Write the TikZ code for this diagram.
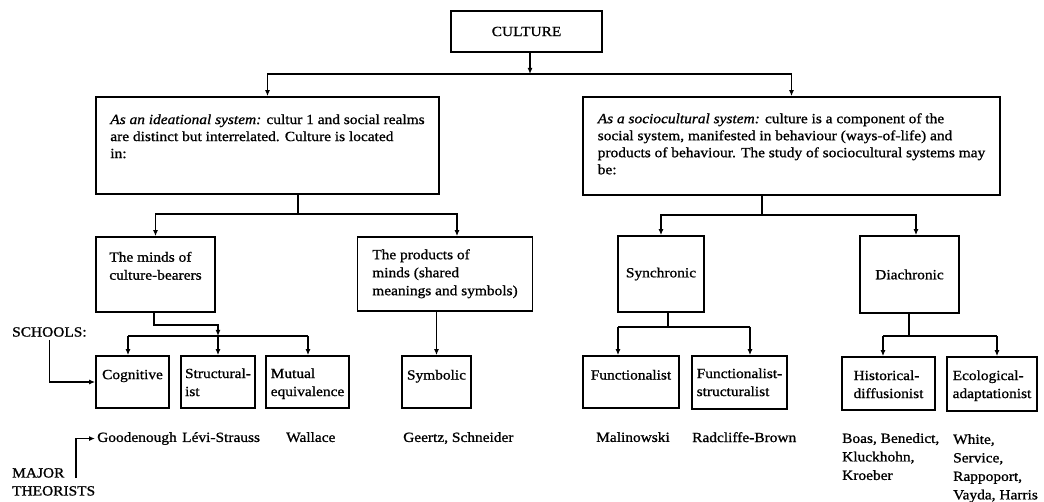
\documentclass[tikz,border=0pt]{standalone}
\usepackage{fontspec}
\setmainfont{Liberation Serif}[FakeStretch=1.1,FakeBold=1]
\usetikzlibrary{arrows.meta}
\begin{document}
\begin{tikzpicture}[x=1pt,y=-1pt,
  box/.style={draw, line width=1.7pt, inner sep=0pt, font=\fontsize{14}{18}\selectfont},
  txt/.style={align=left, inner sep=0pt, font=\fontsize{14}{18}\selectfont},
  bigtxt/.style={align=left, inner sep=0pt, font=\fontsize{14}{17}\selectfont},
  conn/.style={line width=1.3pt},
  arr/.style={conn, -{Latex[length=6pt,width=5pt]}},
]
\useasboundingbox (0,0) rectangle (1044,502);

% level 0
\node[box, minimum width=151pt, minimum height=41pt] (culture) at (526.5,31.5) {CULTURE};

% level 1
\node[box, minimum width=343pt, minimum height=97pt] (ideal) at (267.5,145.5) {};
\node[bigtxt, anchor=north] (idealt) at ([yshift=-18pt]ideal.north)
  {\textit{As an ideational system:} cultur 1 and social realms\\
   are distinct but interrelated. Culture is located\\
   in:};
\node[box, minimum width=417pt, minimum height=98pt] (socio) at (791.5,146) {};
\node[bigtxt, anchor=north] (sociot) at ([yshift=-17pt]socio.north)
  {\textit{As a sociocultural system:} culture is a component of the\\
   social system, manifested in behaviour (ways-of-life) and\\
   products of behaviour. The study of sociocultural systems may\\
   be:};

% level 2
\node[box, minimum width=119pt, minimum height=75pt] (minds) at (155.5,274.5) {};
\node[txt, anchor=north] (mindst) at ([yshift=-15.5pt]minds.north) {The minds of\\culture-bearers};
\node[box, minimum width=175pt, minimum height=74pt] (products) at (445,274) {};
\node[txt, anchor=north] (productst) at ([yshift=-13pt]products.north) {The products of\\minds (shared\\meanings and symbols)};
\node[box, minimum width=86pt, minimum height=76pt] (synchronic) at (661,274) {Synchronic};
\node[box, minimum width=99pt, minimum height=77pt] (diachronic) at (909.5,274.5) {Diachronic};

% level 3 (schools)
\node[box, minimum width=73pt, minimum height=52pt] (cognitive) at (132.5,382) {};
\node[txt, anchor=north] (cognitivet) at ([yshift=-14.5pt]cognitive.north) {Cognitive};
\node[box, minimum width=74pt, minimum height=52pt] (structural) at (218,382) {};
\node[txt, anchor=north] (structuralt) at ([yshift=-13pt]structural.north) {Structural-\\ist};
\node[box, minimum width=83pt, minimum height=52pt] (mutual) at (307.5,382) {};
\node[txt, anchor=north] (mutualt) at ([yshift=-13pt]mutual.north) {Mutual\\equivalence};
\node[box, minimum width=69pt, minimum height=52pt] (symbolic) at (436.5,382) {};
\node[txt, anchor=north] (symbolict) at ([yshift=-14.5pt]symbolic.north) {Symbolic};
\node[box, minimum width=96pt, minimum height=52pt] (functionalist) at (631,382) {};
\node[txt, anchor=north] (functionalistt) at ([yshift=-14.5pt]functionalist.north) {Functionalist};
\node[box, minimum width=95pt, minimum height=53pt] (funcstruct) at (739.5,382.5) {};
\node[txt, anchor=north] (funcstructt) at ([yshift=-13pt]funcstruct.north) {Functionalist-\\structuralist};
\node[box, minimum width=93pt, minimum height=53pt] (histdiff) at (888.5,383.5) {};
\node[txt, anchor=north] (histdifft) at ([yshift=-14pt]histdiff.north) {Historical-\\diffusionist};
\node[box, minimum width=90pt, minimum height=54pt] (ecoadapt) at (992,384) {};
\node[txt, anchor=north] (ecoadaptt) at ([yshift=-14pt]ecoadapt.north) {Ecological-\\adaptationist};

% theorists
\node[txt, anchor=north west] (goodenough) at (97,432) {Goodenough};
\node[txt, anchor=north west] (levi) at (182,432) {Lévi-Strauss};
\node[txt, anchor=north west] (wallace) at (286,432) {Wallace};
\node[txt, anchor=north west] (geertz) at (403,432) {Geertz, Schneider};
\node[txt, anchor=north west] (malinowski) at (596,432) {Malinowski};
\node[txt, anchor=north west] (radcliffe) at (692,432) {Radcliffe-Brown};
\node[txt, anchor=north west, font=\fontsize{14}{18.5}\selectfont] (boas) at (842,433) {Boas, Benedict,\\Kluckhohn,\\Kroeber};
\node[txt, anchor=north west, font=\fontsize{14}{18.5}\selectfont] (white) at (953,434) {White,\\Service,\\Rappoport,\\Vayda, Harris};

% side labels
\node[txt, anchor=west] (schools) at (12,332) {SCHOOLS:};
\node[txt, anchor=north west] (major) at (12,468) {MAJOR\\THEORISTS};

% connectors
\coordinate (c0) at (530,74);
\draw[arr] (culture.south -| c0) -- (c0);
\draw[arr] (c0) -| (ideal);
\draw[arr] (c0) -| (socio);

\coordinate (c1) at (298,214);
\coordinate (pa) at (457,214);
\draw[conn] (ideal.south -| c1) -- (c1);
\draw[arr] (c1) -| (minds);
\draw[arr] (c1) -- (pa) -- (pa |- products.north);

\coordinate (c2) at (762,215);
\coordinate (da) at (916,215);
\draw[conn] (socio.south -| c2) -- (c2);
\draw[arr] (c2) -| (synchronic);
\draw[arr] (c2) -- (da) -- (da |- diachronic.north);

\coordinate (m1) at (154,325);
\coordinate (m2) at (218,325);
\coordinate (m3) at (218,336);
\coordinate (b1) at (128,336);
\coordinate (b3) at (308,336);
\draw[arr] (minds.south -| m1) -- (m1) -- (m2) -- (m3);
\draw[conn] (b1) -- (b3);
\draw[arr] (b1) -- (b1 |- cognitive.north);
\draw[arr] (m3) -- (m3 |- structural.north);
\draw[arr] (b3) -- (b3 |- mutual.north);

\draw[arr] (products.south -| symbolic) -- (symbolic);

\coordinate (s1) at (668,327);
\coordinate (sl) at (618,327);
\coordinate (sr) at (750,327);
\draw[conn] (synchronic.south -| s1) -- (s1);
\draw[conn] (sl) -- (sr);
\draw[arr] (sl) -- (sl |- functionalist.north);
\draw[arr] (sr) -- (sr |- funcstruct.north);

\coordinate (d1) at (909,336);
\coordinate (dl) at (883,336);
\coordinate (dr) at (997,336);
\draw[conn] (diachronic.south -| d1) -- (d1);
\draw[conn] (dl) -- (dr);
\draw[arr] (dl) -- (dl |- histdiff.north);
\draw[arr] (dr) -- (dr |- ecoadapt.north);

\draw[arr] ([yshift=-3pt]schools.south) |- (cognitive);
\coordinate (mt) at (76,478);
\draw[arr] (mt) |- ([xshift=-2pt]goodenough.west);
\end{tikzpicture}
\end{document}
